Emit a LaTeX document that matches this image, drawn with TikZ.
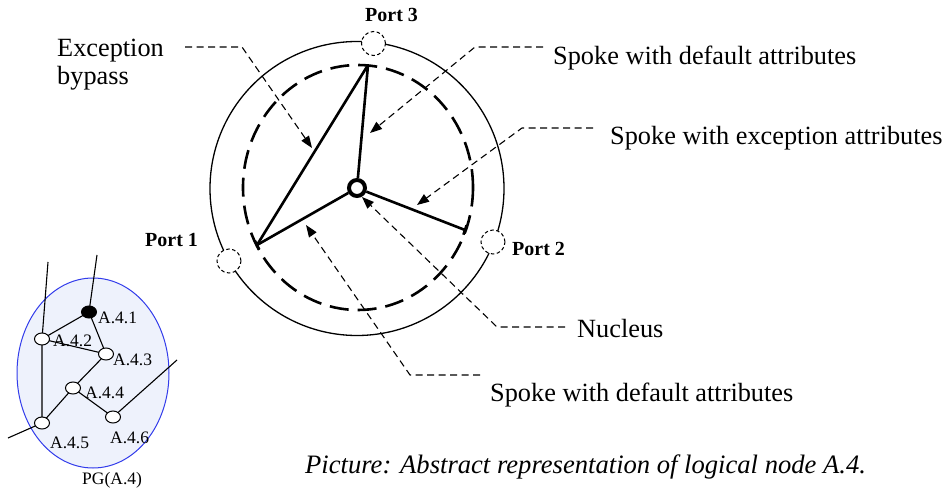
\documentclass[tikz,border=0pt]{standalone}
\usepackage{fontspec}
\setmainfont{Liberation Serif}
\usetikzlibrary{arrows.meta,shapes.geometric}
\begin{document}
\begin{tikzpicture}[x=1pt,y=-1pt,
  bigtxt/.style={anchor=base west,inner sep=0pt,font=\fontsize{26.3}{28}\selectfont},
  porttxt/.style={anchor=base west,inner sep=0pt,font=\fontsize{20}{22}\selectfont\bfseries},
  gtxt/.style={anchor=base west,inner sep=0pt,font=\fontsize{17.5}{19}\selectfont},
  leader/.style={line width=1.1pt,dash pattern=on 7pt off 4.5pt,-{Triangle[length=12pt,width=9pt]}},
  spoke/.style={line width=2.6pt},
  portc/.style={circle,draw,dash pattern=on 3.5pt off 2.5pt,line width=1pt,fill=white,minimum size=24pt,inner sep=0pt},
  gnode/.style={ellipse,draw,line width=1pt,fill=white,minimum width=15pt,minimum height=12pt,inner sep=0pt},
  gedge/.style={line width=1.1pt}]
\useasboundingbox (0,0) rectangle (948,489);

% outer ring and dashed boundary
\node[circle,draw,line width=1.3pt,minimum size=294pt,inner sep=0pt] (ring) at (357,188.5) {};
\draw[line width=2.6pt,dash pattern=on 19pt off 9pt] (358,187.5) ellipse [x radius=115,y radius=122.5];

% ports
\node[portc] (p3) at (373.5,43.5) {};
\node[portc] (p1) at (229,261) {};
\node[portc] (p2) at (493,242) {};
\node[porttxt] (p3t) at (365,22) {Port 3};
\node[porttxt] (p1t) at (145,247) {Port 1};
\node[porttxt] (p2t) at (512,256) {Port 2};

% nucleus and spokes
\node[circle,draw,line width=4pt,minimum size=16pt,inner sep=0pt,fill=white] (nuc) at (357,188) {};
\coordinate (e3) at (368,65);
\coordinate (e2) at (465,230);
\coordinate (e1) at (257,245);
\draw[spoke] (nuc) -- (e3);
\draw[spoke] (nuc) -- (e2);
\draw[spoke] (nuc) -- (e1);
\draw[spoke] (e1) -- (e3);
\draw[spoke] ([shift={(1.6,-4.7)}]e2) -- ([shift={(-1.6,4.7)}]e2);
\draw[spoke] ([shift={(-2.2,-4.5)}]e1) -- ([shift={(2.2,4.5)}]e1);

% labels
\node[bigtxt] (exc) at (57,57) {Exception};
\node[bigtxt] (byp) at (57,85) {bypass};
\node[bigtxt] (sd1) at (553,65) {Spoke with default attributes};
\node[bigtxt] (sea) at (610,145) {Spoke with exception attributes};
\node[bigtxt] (nucl) at (577,337) {Nucleus};
\node[bigtxt] (sd2) at (490,401) {Spoke with default attributes};
\node[bigtxt,font=\fontsize{26.6}{28}\selectfont\itshape] (cap) at (305,473) {Picture: Abstract representation of logical node A.4.};

% leaders
\coordinate (l1a) at (185,47); \coordinate (l1b) at (242,47); \coordinate (t1) at (312,148);
\coordinate (l2a) at (543,47); \coordinate (l2b) at (475,47); \coordinate (t2) at (370,133);
\coordinate (l3a) at (593,128); \coordinate (l3b) at (522,128); \coordinate (t3) at (417,205);
\coordinate (l4a) at (565,327); \coordinate (l4b) at (497,327); \coordinate (t4) at (362,197);
\coordinate (l5a) at (480,375); \coordinate (l5b) at (410,375); \coordinate (t5) at (306,225);
\draw[leader] (l1a) -- (l1b) -- (t1);
\draw[leader] (l2a) -- (l2b) -- (t2);
\draw[leader] (l3a) -- (l3b) -- (t3);
\draw[leader] (l4a) -- (l4b) -- (t4);
\draw[leader] (l5a) -- (l5b) -- (t5);

% peer group graph
\definecolor{pgfill}{RGB}{238,242,252}
\definecolor{pgline}{RGB}{50,60,235}
\node[ellipse,draw=pgline,line width=1pt,fill=pgfill,minimum width=152pt,minimum height=190pt,inner sep=0pt] (pg) at (93,373) {};
\coordinate (f1) at (97,255);
\coordinate (f2) at (48,262);
\coordinate (f5) at (8,438);
\coordinate (f6) at (177,360);
\coordinate (c1) at (89,312);
\coordinate (c2) at (42,339);
\coordinate (c3) at (106,354);
\coordinate (c4) at (73,388);
\coordinate (c5) at (42,423);
\coordinate (c6) at (113,417);
\draw[gedge] (f1) -- (c1) (f2) -- (c2) (c1) -- (c2) (c1) -- (c3) (c2) -- (c3)
  (c2) -- (c5) (c3) -- (c4) (c4) -- (c5) (c4) -- (c6) (c6) -- (f6) (c5) -- (f5);
\node[gnode,fill=black] (n1) at (c1) {};
\node[gnode] (n2) at (c2) {};
\node[gnode] (n3) at (c3) {};
\node[gnode] (n4) at (c4) {};
\node[gnode] (n5) at (c5) {};
\node[gnode] (n6) at (c6) {};
\node[gtxt] (n1t) at (98,323) {A.4.1};
\node[gtxt] (n2t) at (53,346) {A.4.2};
\node[gtxt] (n3t) at (113,365) {A.4.3};
\node[gtxt] (n4t) at (85,398) {A.4.4};
\node[gtxt] (n5t) at (50,448) {A.4.5};
\node[gtxt] (n6t) at (110,443) {A.4.6};
\node[gtxt] (pgt) at (82,484) {PG(A.4)};
\end{tikzpicture}
\end{document}
